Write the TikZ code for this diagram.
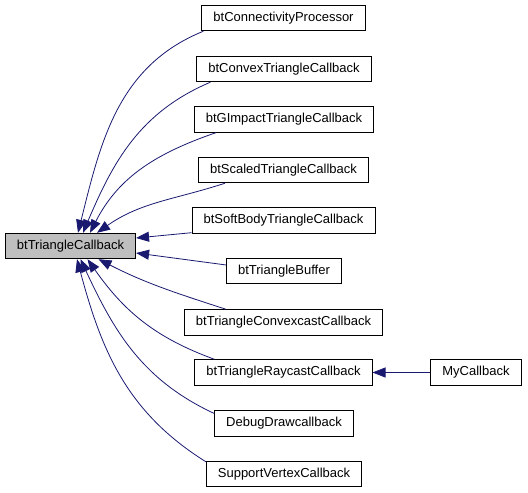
\documentclass[tikz,border=0pt]{standalone}
\usepackage{fontspec}
\setmainfont{Liberation Sans}
\usetikzlibrary{arrows.meta,positioning}
\definecolor{edgeblue}{RGB}{25,25,112}
\definecolor{basegray}{RGB}{191,191,191}

\begin{document}
\begin{tikzpicture}[x=1pt, y=1pt, font=\fontsize{13}{15}\selectfont,
  cls/.style={draw=black, line width=0.9pt, rectangle, minimum height=25.5pt, inner xsep=11.5pt, inner ysep=0pt, text height=9.5pt, text depth=2.5pt},
  base/.style={cls, fill=basegray},
  inh/.style={draw=edgeblue, line width=0.8pt, -{Triangle[length=13pt,width=10pt]}}]
  \useasboundingbox (0,0) rectangle (528,493);
  \node[base] (tc) at (70.5,247) {btTriangleCallback};
  \node[cls] (conn) at (283.5,475) {btConnectivityProcessor};
  \node[cls] (convex) at (284,424) {btConvexTriangleCallback};
  \node[cls] (gimp) at (284,373.5) {btGImpactTriangleCallback};
  \node[cls] (scaled) at (283.5,323) {btScaledTriangleCallback};
  \node[cls] (soft) at (283.5,272.5) {btSoftBodyTriangleCallback};
  \node[cls] (buf) at (284,222) {btTriangleBuffer};
  \node[cls] (ccast) at (283.5,170.5) {btTriangleConvexcastCallback};
  \node[cls] (rcast) at (283.5,120.5) {btTriangleRaycastCallback};
  \node[cls] (debug) at (284,69.5) {DebugDrawcallback};
  \node[cls] (support) at (284,19) {SupportVertexCallback};
  \node[cls] (my) at (476,120.5) {MyCallback};
  % inheritance edges
  \draw[inh] ([xshift=2pt]conn.south west) to[out=202,in=76] ([xshift=7.5pt]tc.north);
  \draw[inh] ([xshift=14pt]convex.south west) to[out=203,in=67] ([xshift=12.5pt]tc.north);
  \draw[inh] ([xshift=22pt]gimp.south west) to[out=199,in=63] ([xshift=19.5pt]tc.north);
  \draw[inh] ([xshift=27pt]scaled.south west) to[out=198,in=35] ([xshift=26.5pt]tc.north);
  \draw[inh] ([yshift=1pt]soft.south west) -- ([yshift=8pt]tc.east);
  \draw[inh] ([yshift=6pt]buf.west) -- ([yshift=-7pt]tc.east);
  \draw[inh] ([xshift=42pt]ccast.north west) to[out=162,in=-27] ([xshift=28pt]tc.south);
  \draw[inh] ([xshift=20pt]rcast.north west) to[out=160,in=-55] ([xshift=17pt]tc.south);
  \draw[inh] ([yshift=10pt]debug.west) to[out=155,in=-65] ([xshift=10pt]tc.south);
  \draw[inh] ([yshift=-1pt]support.north west) to[out=148,in=-75] ([xshift=6.5pt]tc.south);
  \draw[inh] (my) -- (rcast);
\end{tikzpicture}
\end{document}
